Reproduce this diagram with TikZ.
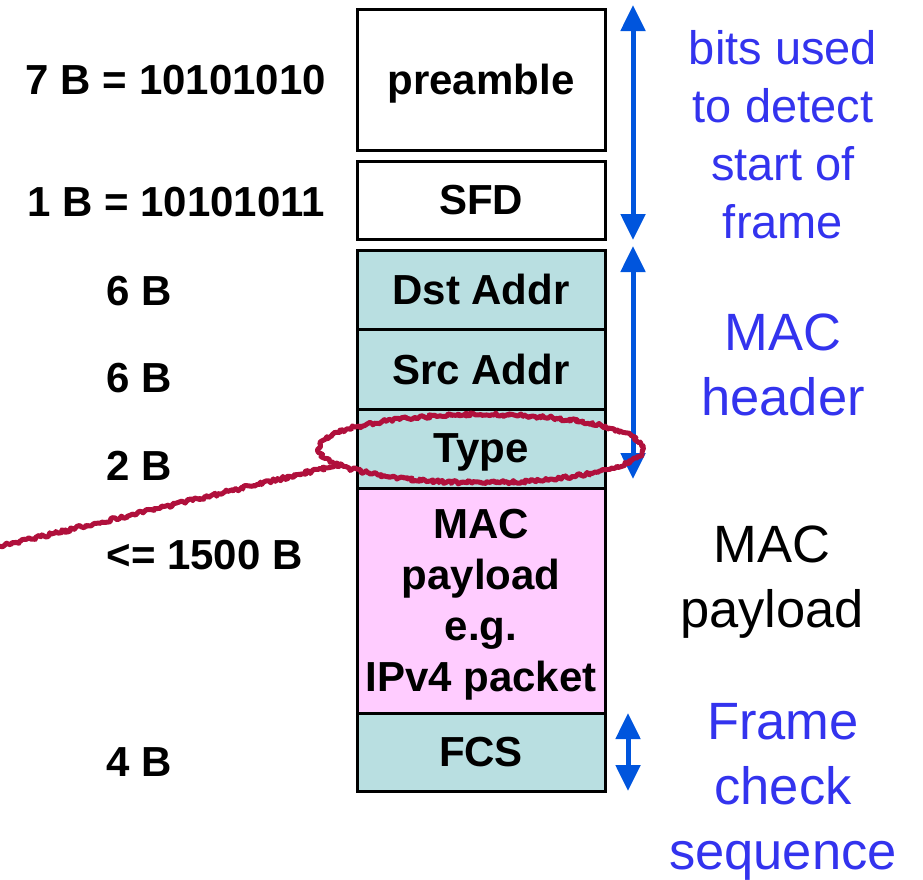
\documentclass[tikz,border=0pt]{standalone}
\usepackage{fontspec}
\setmainfont{Liberation Sans}
\usetikzlibrary{arrows.meta,decorations.pathmorphing}
\definecolor{hdr}{HTML}{B9DFE1}
\definecolor{pay}{HTML}{FFCCFF}
\definecolor{arr}{HTML}{0055DD}
\definecolor{note}{HTML}{3333EE}
\definecolor{scrib}{HTML}{B0103C}
\begin{document}
\pgfmathsetseed{7}
\begin{tikzpicture}[x=1pt,y=-1pt,
  field/.style={draw=black,line width=3pt,minimum width=248pt,inner sep=0pt,
    text depth=0pt,font=\fontsize{42}{51}\selectfont\bfseries,align=center},
  size/.style={font=\fontsize{42}{50}\selectfont\bfseries},
  span/.style={arr,line width=5pt,
    {Triangle[width=24pt,length=26pt]}-{Triangle[width=24pt,length=26pt]}},
  small note/.style={note,font=\fontsize{47}{58}\selectfont,align=center},
  big note/.style={font=\fontsize{52.5}{65}\selectfont,align=center},
  scribble/.style={scrib,line width=5pt,line cap=round,line join=round,
    decorate,decoration={random steps,segment length=2pt,amplitude=1.8pt}}]
\useasboundingbox (0,0) rectangle (923,879);

% frame fields
\node[field,minimum height=141pt] (pre) at (481,79.5) {preamble};
\node[field,minimum height=78pt]  (sfd) at (481,200) {SFD};
\node[field,fill=hdr,minimum height=79pt]  (dst) at (481,289.5) {Dst Addr};
\node[field,fill=hdr,minimum height=80pt]  (src) at (481,369) {Src Addr};
\node[field,fill=hdr,minimum height=79pt]  (typ) at (481,448.5) {Type};
\node[field,fill=pay,minimum height=225pt] (pld) at (481,600.5) {MAC\\payload\\e.g.\\IPv4 packet};
\node[field,fill=hdr,minimum height=78pt]  (fcs) at (481,752) {FCS};

% field sizes
\node[size] (lpre) at (176,80) {7 B = 10101010};
\node[size] (lsfd) at (176,202) {1 B = 10101011};
\node[size,anchor=west] (ldst) at (103,291) {6 B};
\node[size,anchor=west] (lsrc) at (103,378) {6 B};
\node[size,anchor=west] (ltyp) at (103,466) {2 B};
\node[size,anchor=west] (lpld) at (103,555) {<= 1500 B};
\node[size,anchor=west] (lfcs) at (103,762) {4 B};

% extents of the field groups
\coordinate (a1) at (633,5);
\coordinate (a2) at (633,240);
\coordinate (b1) at (633,246);
\coordinate (b2) at (633,479);
\coordinate (c1) at (628,713);
\coordinate (c2) at (628,791);
\draw[span] (a1) -- (a2);
\draw[span] (b1) -- (b2);
\draw[span] (c1) -- (c2);

% group descriptions
\node[small note] (nsync) at (783,135) {bits used\\to detect\\start of\\frame};
\node[big note,note] (nhdr) at (783,364.5) {MAC\\header};
\node[big note] (npld) at (772,582.5) {MAC\\payload};
\node[big note,note] (nfcs) at (783,792) {Frame\\check\\sequence};

% hand-drawn highlight of the type field
\coordinate (tail) at (-2,547);
\coordinate (join) at (338,465);
\draw[scribble] (tail) -- (join);
\draw[scribble] (typ.center) ellipse [x radius=162pt,y radius=34pt];
\end{tikzpicture}
\end{document}
